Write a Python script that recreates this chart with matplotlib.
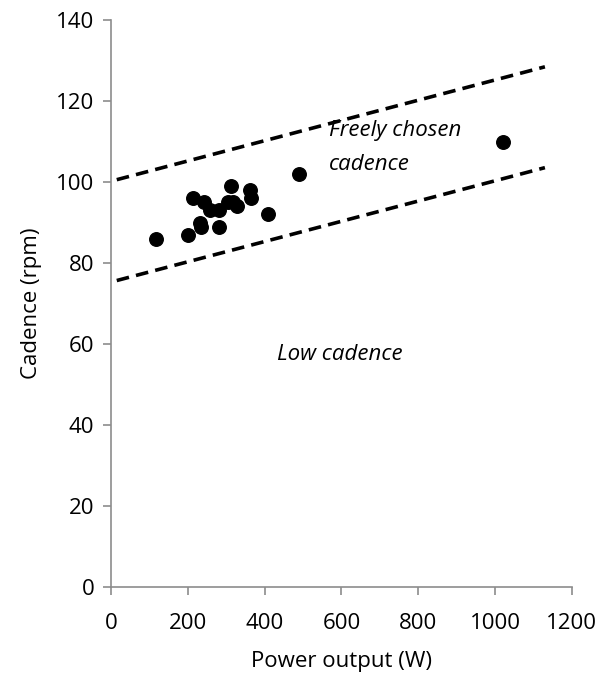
import numpy as np
import matplotlib.pyplot as plt

# power output (W) and cadence (rpm)
power = [116, 201, 213, 232, 234, 243, 258, 280, 282, 305, 312, 318, 329,
         362, 364, 410, 489, 1020]
cadence = [86, 87, 96, 90, 89, 95, 93, 89, 93, 95, 99, 95, 94,
           98, 96, 92, 102, 110]

# boundary lines (intercept, slope) and their x extent
bound_x = [15, 1130]
upper_line = (100.2, 0.025)
lower_line = (75.3, 0.025)

x_ticks = [0, 200, 400, 600, 800, 1000, 1200]
y_ticks = [0, 20, 40, 60, 80, 100, 120, 140]

plt.rcParams['font.family'] = ['Open Sans', 'DejaVu Sans']
FS = 16

fig = plt.figure(figsize=(6.0, 6.79), dpi=100)
ax = fig.add_axes([0.185, 0.1355, 0.768, 0.835])

bx = np.array(bound_x, dtype=float)
for b, m in (upper_line, lower_line):
    ax.plot(bx, b + m * bx, color="black", linestyle=(0, (3.5, 2)),
            linewidth=2.6)

ax.scatter(power, cadence, s=95, color="black", zorder=3)

ax.text(568, 112.8, "Freely chosen", fontsize=FS, style="italic",
        ha="left", va="center")
ax.text(568, 104.4, "cadence", fontsize=FS, style="italic",
        ha="left", va="center")
ax.text(596, 57.3, "Low cadence", fontsize=FS, style="italic",
        ha="center", va="center")

ax.set_xlim(0, 1200)
ax.set_ylim(0, 140)
ax.set_xticks(x_ticks)
ax.set_yticks(y_ticks)
ax.set_xlabel("Power output (W)", fontsize=FS, labelpad=12)
ax.set_ylabel("Cadence (rpm)", fontsize=FS, labelpad=10)

for side in ("top", "right"):
    ax.spines[side].set_visible(False)
for side in ("left", "bottom"):
    ax.spines[side].set_color("#8c8c8c")
    ax.spines[side].set_linewidth(1.2)
ax.tick_params(axis="both", direction="out", length=6, width=1.2,
               color="#8c8c8c", labelsize=FS)
ax.tick_params(axis="x", pad=13)
ax.tick_params(axis="y", pad=6)

fig.savefig("out.png", dpi=100)
